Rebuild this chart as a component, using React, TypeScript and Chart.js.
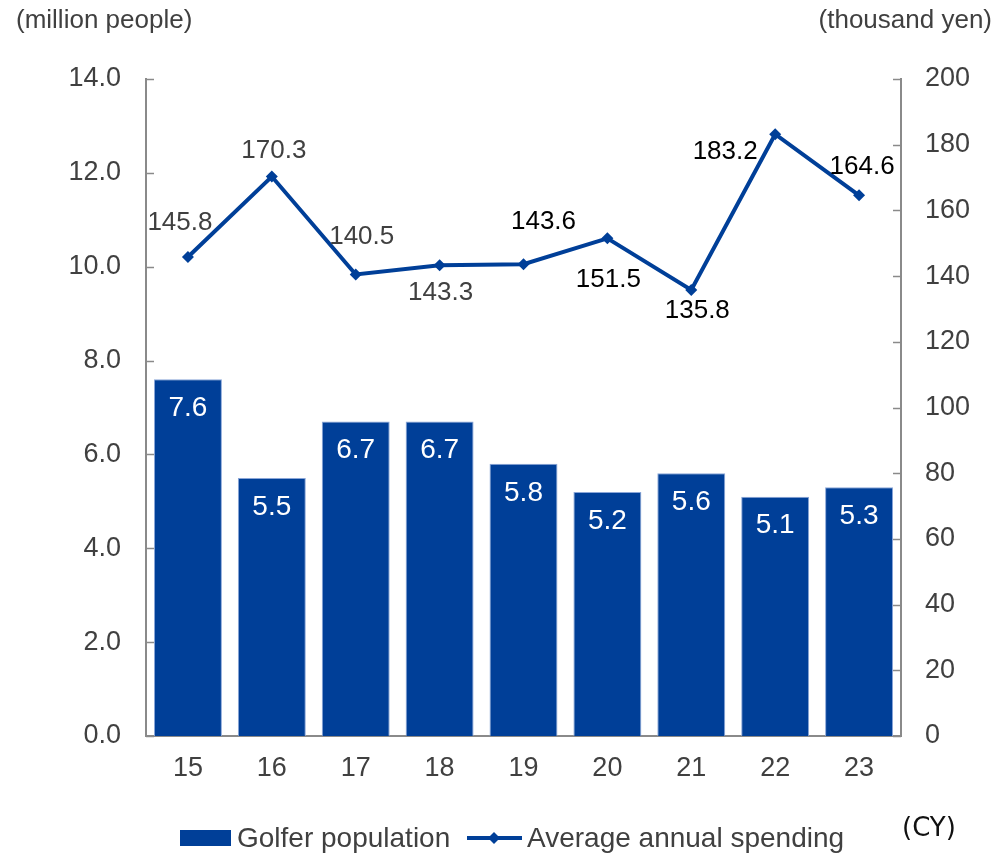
import React, { useEffect, useRef } from "react";
import { Chart, registerables } from "chart.js";

Chart.register(...registerables);

const categories = ["15", "16", "17", "18", "19", "20", "21", "22", "23"];
const golferPopulation = [7.6, 5.5, 6.7, 6.7, 5.8, 5.2, 5.6, 5.1, 5.3];
const annualSpending = [145.8, 170.3, 140.5, 143.3, 143.6, 151.5, 135.8, 183.2, 164.6];
const leftTicks = [0, 2, 4, 6, 8, 10, 12, 14];
const rightTicks = [0, 20, 40, 60, 80, 100, 120, 140, 160, 180, 200];

const BLUE = "#003F98";
const GRAY_TEXT = "#404040";
const AXIS = "#8a8a8a";
const FONT = "'Liberation Sans', Arial, sans-serif";

// label offsets (dx, dy) for line value labels, and their colours
const lineLabelOffsets: [number, number][] = [
  [-8, -34], [2, -26], [6, -38], [1, 28], [20, -42], [1, 42], [6, 21], [-50, 18], [3, -28],
];
const lineLabelColors = [GRAY_TEXT, GRAY_TEXT, GRAY_TEXT, GRAY_TEXT, "#000", "#000", "#000", "#000", "#000"];

const overlayPlugin = {
  id: "overlay",
  afterDatasetsDraw(chart: any) {
    const ctx = chart.ctx;
    const area = chart.chartArea;
    ctx.save();
    // inner tick marks
    ctx.strokeStyle = AXIS;
    ctx.lineWidth = 1.5;
    const y = chart.scales.y;
    leftTicks.forEach((v) => {
      const py = Math.round(y.getPixelForValue(v)) + 0.5;
      ctx.beginPath();
      ctx.moveTo(area.left, py);
      ctx.lineTo(area.left + 8, py);
      ctx.stroke();
    });
    const y1 = chart.scales.y1;
    rightTicks.forEach((v) => {
      const py = Math.round(y1.getPixelForValue(v)) + 0.5;
      ctx.beginPath();
      ctx.moveTo(area.right - 8, py);
      ctx.lineTo(area.right, py);
      ctx.stroke();
    });

    // bar labels
    ctx.font = `28px ${FONT}`;
    ctx.textAlign = "center";
    ctx.textBaseline = "middle";
    ctx.fillStyle = "#ffffff";
    const barMeta = chart.getDatasetMeta(0);
    barMeta.data.forEach((el: any, i: number) => {
      ctx.fillText(golferPopulation[i].toFixed(1), el.x, el.y + 29);
    });
    // line labels
    ctx.font = `26px ${FONT}`;
    const lineMeta = chart.getDatasetMeta(1);
    lineMeta.data.forEach((el: any, i: number) => {
      const [dx, dy] = lineLabelOffsets[i];
      ctx.fillStyle = lineLabelColors[i];
      ctx.fillText(annualSpending[i].toFixed(1), el.x + dx, el.y + dy);
    });

    // axis titles
    ctx.fillStyle = GRAY_TEXT;
    ctx.font = `26px ${FONT}`;
    ctx.textAlign = "left";
    ctx.fillText("(million people)", 16, 21);
    ctx.textAlign = "right";
    ctx.fillText("(thousand yen)", 992, 21);
    ctx.textAlign = "left";
    ctx.fillStyle = "#111111";
    ctx.font = `26px 'DejaVu Sans', sans-serif`;
    ctx.fillText("(CY)", 902, 829);

    // legend
    ctx.fillStyle = BLUE;
    ctx.fillRect(180, 830, 51, 16);
    ctx.fillStyle = GRAY_TEXT;
    ctx.font = `28px ${FONT}`;
    ctx.textAlign = "left";
    ctx.fillText("Golfer population", 237, 839);
    ctx.strokeStyle = BLUE;
    ctx.lineWidth = 4;
    ctx.beginPath();
    ctx.moveTo(467, 838);
    ctx.lineTo(522, 838);
    ctx.stroke();
    ctx.fillStyle = BLUE;
    ctx.beginPath();
    ctx.moveTo(494, 832);
    ctx.lineTo(500, 838);
    ctx.lineTo(494, 844);
    ctx.lineTo(488, 838);
    ctx.closePath();
    ctx.fill();
    ctx.fillStyle = GRAY_TEXT;
    ctx.fillText("Average annual spending", 527, 839);
    ctx.restore();
  },
};

export default function App() {
  const ref = useRef<HTMLCanvasElement>(null);
  useEffect(() => {
    document.body.style.margin = "0";
    const chart = new Chart(ref.current as HTMLCanvasElement, {
      type: "bar",
      data: {
        labels: categories,
        datasets: [
          {
            type: "bar",
            label: "Golfer population",
            data: golferPopulation,
            backgroundColor: BLUE,
            borderColor: "#8aa6d8",
            borderWidth: { left: 1, right: 1, top: 1, bottom: 0 },
            borderSkipped: false,
            barPercentage: 0.81,
            categoryPercentage: 1,
            yAxisID: "y",
            order: 2,
          },
          {
            type: "line",
            label: "Average annual spending",
            data: annualSpending,
            borderColor: BLUE,
            backgroundColor: BLUE,
            borderWidth: 4,
            pointStyle: "rectRot",
            pointRadius: 6,
            pointBorderWidth: 0,
            tension: 0,
            yAxisID: "y1",
            order: 1,
          },
        ],
      },
      options: {
        responsive: false,
        animation: false,
        devicePixelRatio: 1,
        layout: { padding: { top: 79, bottom: 0, left: 0, right: 0 } },
        plugins: { legend: { display: false }, tooltip: { enabled: false } },
        scales: {
          x: {
            grid: { display: false, drawTicks: false },
            border: { display: true, color: AXIS, width: 2 },
            ticks: { color: GRAY_TEXT, font: { family: FONT, size: 27 }, padding: 16 },
            afterFit: (s: any) => {
              s.height = 117;
            },
          },
          y: {
            position: "left",
            min: 0,
            max: 14,
            grid: { display: false, drawTicks: false },
            border: { display: true, color: AXIS, width: 2 },
            ticks: {
              stepSize: 2,
              color: GRAY_TEXT,
              font: { family: FONT, size: 27 },
              padding: 25,
              callback: (v: any) => Number(v).toFixed(1),
            },
            afterFit: (s: any) => {
              s.width = 146;
            },
          },
          y1: {
            position: "right",
            min: 0,
            max: 200,
            grid: { display: false, drawTicks: false },
            border: { display: true, color: AXIS, width: 2 },
            ticks: {
              stepSize: 20,
              color: GRAY_TEXT,
              font: { family: FONT, size: 27 },
              padding: 24,
            },
            afterFit: (s: any) => {
              s.width = 95;
            },
          },
        },
      },
      plugins: [overlayPlugin],
    });
    return () => chart.destroy();
  }, []);
  return (
    <div style={{ width: 996, height: 853 }}>
      <canvas ref={ref} width={996} height={853} style={{ width: 996, height: 853, display: "block" }} />
    </div>
  );
}
